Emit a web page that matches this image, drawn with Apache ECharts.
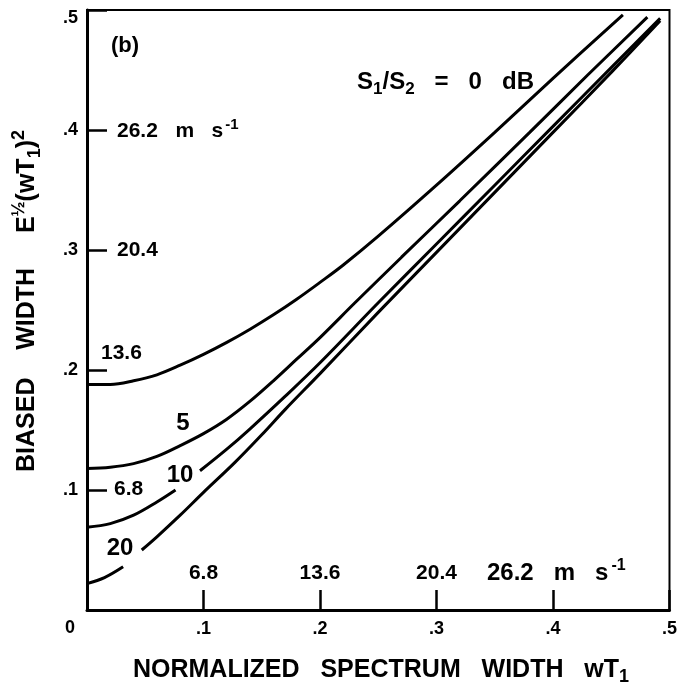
<!DOCTYPE html>
<html><head><meta charset="utf-8">
<script src="https://cdn.jsdelivr.net/npm/echarts@6/dist/echarts.min.js"></script>
<style>html,body{margin:0;padding:0;background:#fff}#c{width:680px;height:691px}</style>
</head><body><div id="c"></div>
<script>
// axis ticks
const xTicks = [0, 0.1, 0.2, 0.3, 0.4, 0.5];
const yTicks = [0, 0.1, 0.2, 0.3, 0.4, 0.5];
// velocity equivalents of the normalized ticks
const velocityTickValues = [0.1, 0.2, 0.3, 0.4];
const velocityLabels = ['6.8', '13.6', '20.4', '26.2'];
// curve labels (S1/S2 in dB)
const curveLabels = ['0 dB', '5', '10', '20'];
// curves: [wT1, biased width]
const curve0dB = [[0,0.188],[0.02,0.188],[0.04,0.191],[0.06,0.196],[0.08,0.204],[0.10,0.213],[0.12,0.223],[0.14,0.234],[0.16,0.246],[0.18,0.259],[0.20,0.273],[0.22,0.2875],[0.25,0.3115],[0.30,0.354],[0.35,0.398],[0.40,0.443],[0.46,0.496]];
const curve5dB = [[0,0.118],[0.02,0.119],[0.04,0.122],[0.06,0.128],[0.08,0.137],[0.10,0.147],[0.12,0.159],[0.14,0.174],[0.16,0.191],[0.18,0.209],[0.20,0.227],[0.23,0.256],[0.27,0.294],[0.32,0.341],[0.38,0.398],[0.43,0.446],[0.481,0.494]];
const curve10dBLow = [[0,0.069],[0.02,0.072],[0.04,0.079],[0.06,0.090],[0.076,0.100]];
const curve10dBHigh = [[0.097,0.116],[0.12,0.134],[0.14,0.151],[0.17,0.178],[0.20,0.206],[0.25,0.256],[0.30,0.305],[0.35,0.354],[0.40,0.403],[0.45,0.452],[0.492,0.493]];
const curve20dBLow = [[0,0.022],[0.015,0.027],[0.031,0.036]];
const curve20dBHigh = [[0.047,0.050],[0.06,0.061],[0.08,0.079],[0.10,0.098],[0.127,0.123],[0.15,0.146],[0.17,0.167],[0.20,0.197],[0.25,0.248],[0.30,0.298],[0.35,0.348],[0.40,0.398],[0.45,0.448],[0.492,0.491]];

const FONT = '"Liberation Sans", Arial, Helvetica, sans-serif';
const chart = echarts.init(document.getElementById('c'), null, {renderer: 'canvas'});
const fmt = v => (v === 0 ? '' : String(+v.toFixed(1)).replace(/^0/, ''));
const lineSeries = (data) => ({
  type: 'line', data: data, showSymbol: false, smooth: 0.35, silent: true,
  lineStyle: {color: '#000', width: 3}, z: 3
});

chart.setOption({
  animation: false,
  backgroundColor: '#fff',
  grid: {left: 87, top: 10, right: 3, bottom: 81, show: true, borderColor: '#000', borderWidth: 2, backgroundColor: 'transparent'},
  xAxis: {
    type: 'value', min: xTicks[0], max: xTicks[xTicks.length - 1], interval: 0.1,
    axisLine: {show: true, onZero: false, lineStyle: {color: '#000', width: 3}},
    axisTick: {show: true, inside: true, length: 20, lineStyle: {color: '#000', width: 2.5}},
    splitLine: {show: false},
    axisLabel: {formatter: fmt, color: '#000', fontSize: 18, fontWeight: 'bold', fontFamily: FONT, margin: 10}
  },
  yAxis: {
    type: 'value', min: yTicks[0], max: yTicks[yTicks.length - 1], interval: 0.1,
    axisLine: {show: true, onZero: false, lineStyle: {color: '#000', width: 3}},
    axisTick: {show: true, inside: true, length: 20, lineStyle: {color: '#000', width: 2.5}},
    splitLine: {show: false},
    axisLabel: {
      formatter: v => (Math.abs(v - 0.5) < 1e-9 ? '{top|.5}' : fmt(v)),
      color: '#000', fontSize: 18, fontWeight: 'bold', fontFamily: FONT, margin: 9,
      rich: {top: {padding: [16, 0, 0, 0], color: '#000', fontSize: 18, fontWeight: 'bold', fontFamily: FONT}}
    }
  },
  series: [
    lineSeries(curve0dB), lineSeries(curve5dB),
    lineSeries(curve10dBLow), lineSeries(curve10dBHigh),
    lineSeries(curve20dBLow), lineSeries(curve20dBHigh)
  ]
});

const base = {fill: '#000', fontWeight: 'bold', fontFamily: FONT};
function txt(x, y, text, size, align, extra) {
  return Object.assign({type: 'text', x: x, y: y, silent: true, z: 10,
    style: Object.assign({}, base, {text: text, fontSize: size, textAlign: align || 'center', textVerticalAlign: 'middle'}, extra || {})});
}
const tok = (s, va, lh, pad) => {
  const o = {fontSize: s, fill: '#000', fontWeight: 'bold', fontFamily: FONT, lineHeight: lh};
  if (va) o.verticalAlign = va;
  if (pad) o.padding = pad;
  return o;
};

const g = [];
g.push(txt(125, 46, '(b)', 22));
g.push(txt(357, 82, '{m|S}{s|1}{m|/S}{s|2}{m|   =   0   dB}', 24, 'left',
  {rich: {m: tok(24, null, 32), s: tok(17, 'bottom', 32)}}));
g.push(txt(183, 423, curveLabels[1], 24));
g.push(txt(180, 475, curveLabels[2], 24));
g.push(txt(120, 548, curveLabels[3], 24));
g.push(txt(70, 628, '0', 18));

// velocity labels from axis scale
velocityTickValues.forEach((v, i) => {
  const px = chart.convertToPixel({gridIndex: 0}, [v, 0]);
  const py = chart.convertToPixel({gridIndex: 0}, [0, v]);
  // x-axis side
  if (i < 3) {
    g.push(txt(px[0], px[1] - 37, velocityLabels[i], 21));
  } else {
    g.push(txt(px[0] - 66, px[1] - 37, '{m|' + velocityLabels[i] + '   m   s}{p|-1}', 24, 'left',
      {rich: {m: tok(24, null, 30), p: tok(16, 'top', 30, [0, 0, 0, 3])}}));
  }
  // y-axis side
  if (i === 0) g.push(txt(py[0] + 27, py[1] - 1, velocityLabels[i], 21, 'left'));
  else if (i === 1) g.push(txt(py[0] + 14, py[1] - 17, velocityLabels[i], 21, 'left'));
  else if (i === 2) g.push(txt(py[0] + 30, py[1], velocityLabels[i], 21, 'left'));
  else g.push(txt(py[0] + 30, py[1] + 1, '{m|' + velocityLabels[i] + '   m   s}{p|-1}', 21, 'left',
      {rich: {m: tok(21, null, 28), p: tok(15, 'top', 28, [0, 0, 0, 2])}}));
});

// axis titles
g.push(txt(381, 670, '{m|NORMALIZED   SPECTRUM   WIDTH   wT}{s|1}', 25, 'center',
  {rich: {m: tok(25, null, 32), s: tok(18, 'bottom', 32)}}));
g.push(Object.assign(txt(27, 301, '{m|BIASED    WIDTH     E}{p|½}{m|(wT}{s|1}{m|)}{p|2}', 25, 'center',
  {rich: {m: tok(25, null, 34), p: tok(18, 'top', 34), s: tok(18, 'bottom', 34)}}),
  {rotation: Math.PI / 2}));

chart.setOption({graphic: {elements: g}});
</script>
</body></html>
